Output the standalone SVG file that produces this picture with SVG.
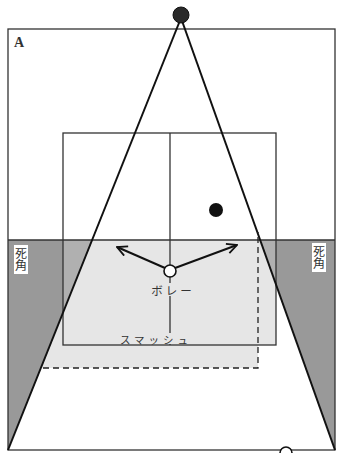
<svg xmlns="http://www.w3.org/2000/svg" width="337" height="453" viewBox="0 0 337 453">
<defs>
<style>
.thin{fill:none;stroke:#333;stroke-width:1.3}
.ray{fill:none;stroke:#111;stroke-width:2}
.dash{fill:none;stroke:#222;stroke-width:1.3;stroke-dasharray:6 4}
.lbl{font-family:"Noto Sans CJK JP","Liberation Sans",sans-serif;fill:#333}
.vert{writing-mode:vertical-rl;font-size:12px}
</style>
<marker id="ah" viewBox="0 0 12 12" refX="11" refY="6" markerWidth="12" markerHeight="12" markerUnits="userSpaceOnUse" orient="auto">
<path d="M1,1 L11,6 L1,11" fill="none" stroke="#111" stroke-width="1.8"/>
</marker>
</defs>
<rect width="337" height="453" fill="#fff"/>
<g id="shading">
<polygon points="92.6,240 41,368 258,368 258,345 276,345 276,285 260,240" fill="#e6e6e6"/>
<polygon points="8,240 92.6,240 8,450" fill="#999"/>
<polygon points="260,240 335,240 335,450" fill="#999"/>
<polygon points="63,240 92.6,240 63,313" fill="#b0b0b0"/>
<polygon points="260,240 276,240 276,285" fill="#b0b0b0"/>
</g>
<g id="court">
<rect x="8" y="29" width="327" height="421" class="thin"/>
<line x1="8" y1="240" x2="335" y2="240" class="thin"/>
<rect x="63" y="133" width="213" height="212" class="thin"/>
<line x1="170" y1="133" x2="170" y2="345" class="thin"/>
<text x="14" y="47" font-family="Liberation Serif,serif" font-weight="bold" font-size="14" fill="#333">A</text>
</g>
<g id="connectors">
<line x1="181" y1="18" x2="8" y2="450" class="ray"/>
<line x1="181" y1="18" x2="335" y2="450" class="ray"/>
<polyline points="43,368 258,368 258,232" class="dash"/>
<line x1="165" y1="268" x2="117" y2="247" stroke="#111" stroke-width="2" marker-end="url(#ah)"/>
<line x1="175" y1="268" x2="237" y2="245" stroke="#111" stroke-width="2" marker-end="url(#ah)"/>
</g>
<g id="dead-left">
<rect x="14" y="245" width="14" height="29" fill="#fff"/>
<text class="lbl vert" x="21" y="247">死角</text>
</g>
<g id="dead-right">
<rect x="312" y="243" width="14" height="29" fill="#fff"/>
<text class="lbl vert" x="319" y="245">死角</text>
</g>
<g id="top-player">
<circle cx="181" cy="15" r="8" fill="#2a2a2a" stroke="#111" stroke-width="1"/>
</g>
<g id="ball">
<circle cx="216" cy="210" r="7" fill="#111"/>
</g>
<g id="volley-player">
<circle cx="170" cy="271" r="6" fill="#fff" stroke="#111" stroke-width="1.6"/>
<rect x="150" y="283" width="46" height="13" fill="#e6e6e6"/>
<text class="lbl" x="173" y="295" font-size="11.5" letter-spacing="3" text-anchor="middle">ボレー</text>
</g>
<g id="smash">
<rect x="116" y="333" width="80" height="11" fill="#e6e6e6"/>
<text class="lbl" x="156" y="344" font-size="10.5" letter-spacing="4" text-anchor="middle">スマッシュ</text>
</g>
<g id="bottom-player">
<circle cx="286" cy="453" r="6" fill="#fff" stroke="#111" stroke-width="1.6"/>
</g>
</svg>
